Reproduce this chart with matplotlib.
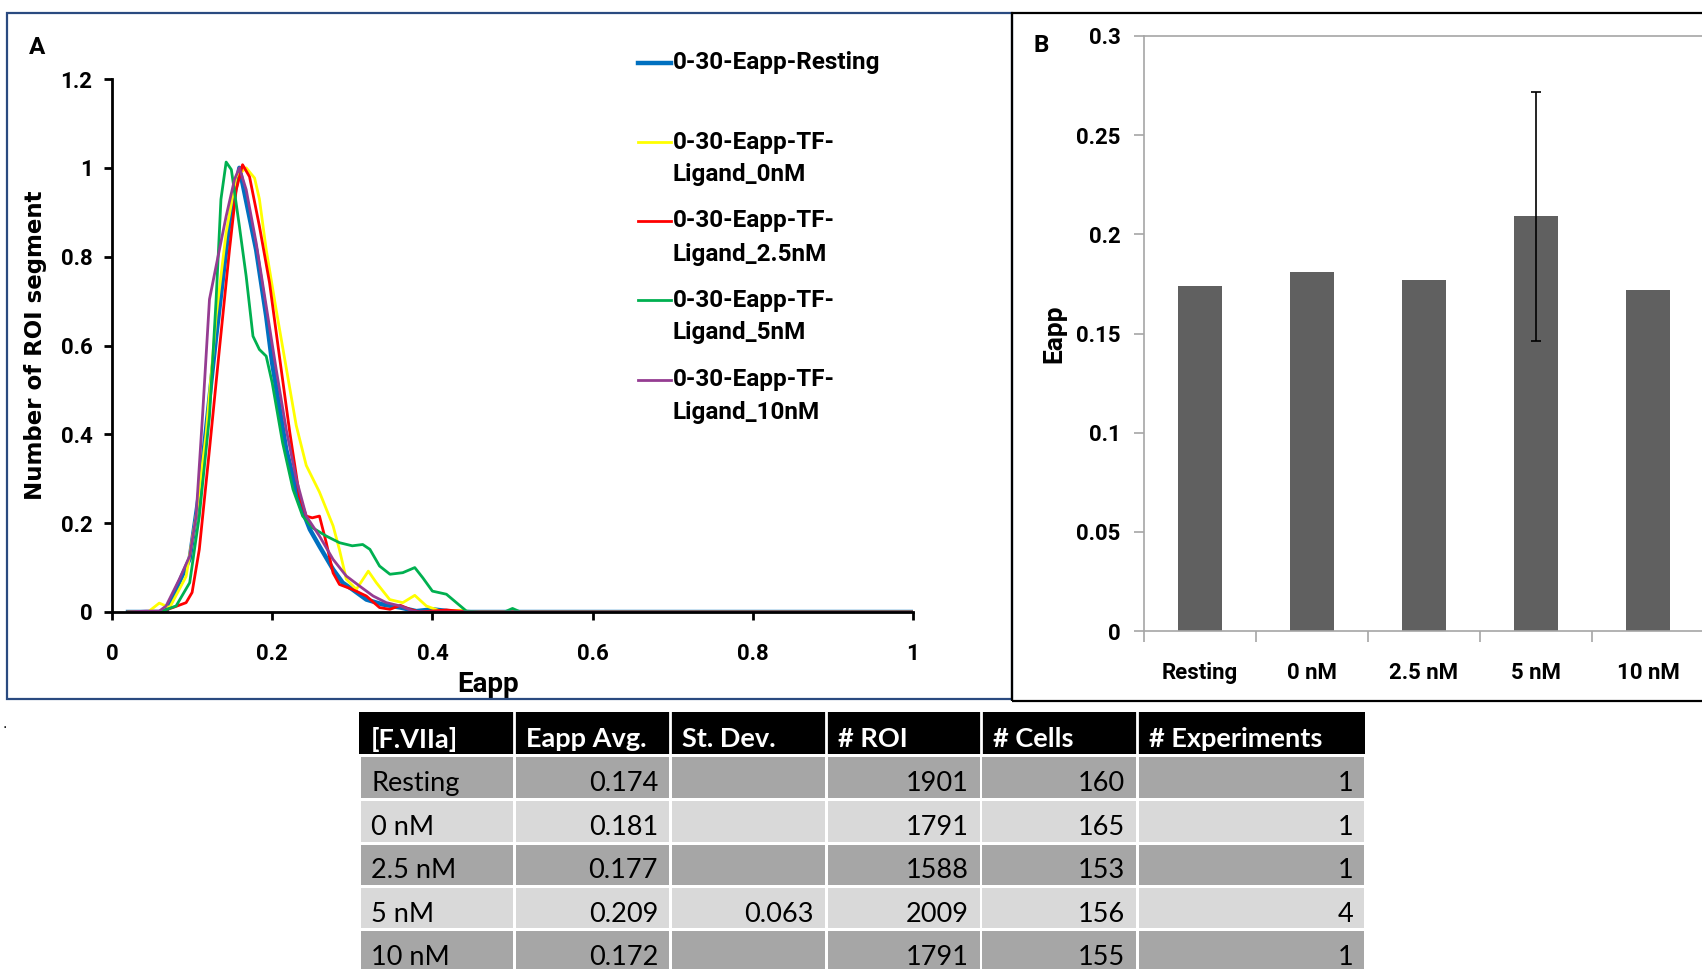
import numpy as np
import matplotlib.pyplot as plt
from matplotlib.patches import Rectangle
from matplotlib.lines import Line2D

# panel A: normalised distributions of Eapp
x_rest = [0.02, 0.0675, 0.097, 0.109, 0.13, 0.1467, 0.159, 0.18, 0.1925, 0.2, 0.2175, 0.234, 0.247, 0.259, 0.276, 0.288, 0.30, 0.3175, 0.338, 0.36, 0.38, 0.40, 0.42, 0.44, 1.0]
y_rest = [0.0, 0.0, 0.12, 0.27, 0.62, 0.88, 1.0, 0.815, 0.666, 0.56, 0.366, 0.246, 0.186, 0.148, 0.096, 0.066, 0.051, 0.028, 0.017, 0.01, 0.002, 0.006, 0.002, 0.0, 0.0]

x_0nm = [0.02, 0.045, 0.059, 0.072, 0.0925, 0.105, 0.1175, 0.13, 0.1425, 0.155, 0.1675, 0.178, 0.184, 0.1925, 0.205, 0.2175, 0.23, 0.2425, 0.259, 0.276, 0.284, 0.2925, 0.305, 0.32, 0.33, 0.3467, 0.363, 0.378, 0.3925, 0.41, 0.434, 0.45, 1.0]
y_0nm = [0.0, 0.0, 0.02, 0.01, 0.08, 0.216, 0.40, 0.666, 0.854, 0.98, 1.0, 0.977, 0.93, 0.816, 0.68, 0.55, 0.42, 0.33, 0.27, 0.194, 0.14, 0.074, 0.051, 0.092, 0.066, 0.028, 0.021, 0.0375, 0.0135, 0.002, 0.004, 0.0, 0.0]

x_25nm = [0.02, 0.059, 0.076, 0.0925, 0.1, 0.109, 0.1217, 0.134, 0.1467, 0.155, 0.163, 0.1717, 0.184, 0.1967, 0.209, 0.222, 0.234, 0.2425, 0.25, 0.259, 0.2675, 0.276, 0.284, 0.30, 0.3175, 0.334, 0.347, 0.36, 0.372, 0.384, 0.4175, 0.434, 0.45, 1.0]
y_25nm = [0.0, 0.0, 0.01, 0.021, 0.044, 0.141, 0.366, 0.59, 0.816, 0.95, 1.007, 0.98, 0.869, 0.741, 0.576, 0.404, 0.261, 0.216, 0.212, 0.216, 0.156, 0.088, 0.062, 0.051, 0.036, 0.01, 0.006, 0.015, 0.006, 0.0, 0.0045, 0.002, 0.0, 0.0]

x_5nm = [0.02, 0.059, 0.08, 0.097, 0.109, 0.1217, 0.13, 0.136, 0.1425, 0.149, 0.159, 0.1675, 0.176, 0.184, 0.1925, 0.2, 0.213, 0.226, 0.238, 0.25, 0.2675, 0.284, 0.30, 0.313, 0.322, 0.334, 0.347, 0.363, 0.378, 0.388, 0.40, 0.4175, 0.43, 0.4425, 0.459, 0.49, 0.50, 0.51, 1.0]
y_5nm = [0.0, 0.0, 0.0135, 0.066, 0.216, 0.441, 0.704, 0.929, 1.013, 0.996, 0.869, 0.756, 0.621, 0.591, 0.576, 0.516, 0.381, 0.276, 0.216, 0.19, 0.171, 0.156, 0.149, 0.152, 0.141, 0.1035, 0.085, 0.0885, 0.1, 0.077, 0.047, 0.04, 0.021, 0.002, 0.0, 0.0, 0.008, 0.0, 0.0]

x_10nm = [0.02, 0.0425, 0.059, 0.0675, 0.084, 0.097, 0.105, 0.113, 0.1217, 0.13, 0.1425, 0.153, 0.159, 0.1675, 0.18, 0.1925, 0.205, 0.2175, 0.23, 0.2425, 0.259, 0.276, 0.2925, 0.309, 0.326, 0.3425, 0.36, 0.376, 0.384, 1.0]
y_10nm = [0.0, 0.002, 0.002, 0.0135, 0.0735, 0.126, 0.216, 0.441, 0.704, 0.779, 0.891, 0.974, 1.0, 0.951, 0.831, 0.689, 0.546, 0.411, 0.30, 0.216, 0.171, 0.1185, 0.081, 0.0585, 0.036, 0.021, 0.0135, 0.002, 0.0, 0.0]

series = [
    ('0-30-Eapp-Resting', x_rest, y_rest, '#0070C0', 3.2),
    ('0-30-Eapp-TF-\nLigand_0nM', x_0nm, y_0nm, '#FFFF00', 2.0),
    ('0-30-Eapp-TF-\nLigand_2.5nM', x_25nm, y_25nm, '#FF0000', 2.0),
    ('0-30-Eapp-TF-\nLigand_5nM', x_5nm, y_5nm, '#00B050', 2.0),
    ('0-30-Eapp-TF-\nLigand_10nM', x_10nm, y_10nm, '#953C92', 2.0),
]

# panel B + table
conc = ['Resting', '0 nM', '2.5 nM', '5 nM', '10 nM']
eapp_avg = [0.174, 0.181, 0.177, 0.209, 0.172]
st_dev = [np.nan, np.nan, np.nan, 0.063, np.nan]
n_roi = [1901, 1791, 1588, 2009, 1791]
n_cells = [160, 165, 153, 156, 155]
n_exp = [1, 1, 1, 4, 1]
headers = ['[F.VIIa]', 'Eapp Avg.', 'St. Dev.', '# ROI', '# Cells', '# Experiments']

CAL = ['Lato', 'DejaVu Sans']
BOLD = ['Roboto', 'DejaVu Sans']

W, H = 1702, 969
fig = plt.figure(figsize=(W / 100, H / 100), dpi=100)


def box(l, t, r, b):
    return [l / W, 1 - b / H, (r - l) / W, (b - t) / H]


def fx(x):
    return x / W


def fy(y):
    return 1 - y / H


# frames round the two panels
fig.add_artist(Rectangle((fx(7), fy(699)), (1012 - 7) / W, (699 - 13) / H, transform=fig.transFigure,
                         fill=False, edgecolor='#2a4a80', lw=1.6))
fig.add_artist(Rectangle((fx(1012), fy(701)), (1720 - 1012) / W, (701 - 13) / H, transform=fig.transFigure,
                         fill=False, edgecolor='black', lw=1.6))

# ---- panel A
axA = fig.add_axes(box(112, 79, 913, 612))
for name, xs, ys, col, lw in series:
    axA.plot(xs, ys, color=col, lw=lw, solid_joinstyle='round')
axA.set_xlim(0, 1)
axA.set_ylim(0, 1.2)
axA.set_xticks([0, 0.2, 0.4, 0.6, 0.8, 1])
axA.set_xticklabels(['0', '0.2', '0.4', '0.6', '0.8', '1'])
axA.set_yticks([0, 0.2, 0.4, 0.6, 0.8, 1, 1.2])
axA.set_yticklabels(['0', '0.2', '0.4', '0.6', '0.8', '1', '1.2'])
for s in ['top', 'right']:
    axA.spines[s].set_visible(False)
for s in ['left', 'bottom']:
    axA.spines[s].set_linewidth(2)
axA.tick_params(length=6, width=2, direction='out')
axA.tick_params(axis='y', pad=8)
axA.tick_params(axis='x', pad=16)
for lab in axA.get_xticklabels() + axA.get_yticklabels():
    lab.set_fontfamily(BOLD)
    lab.set_fontweight('bold')
    lab.set_fontsize(16)
axA.set_xlabel('Eapp', family=BOLD, weight='bold', fontsize=20)
axA.xaxis.set_label_coords(0.469, -0.11)
axA.set_ylabel('Number of ROI segment', family='DejaVu Sans', weight='bold', fontsize=16.5, labelpad=10)
fig.text(fx(37), fy(48), 'A', family=BOLD, weight='bold', fontsize=17.5, ha='center', va='center')

# legend drawn by hand at the top right of panel A
leg_y = [63, 142, 221, 300, 380]
for (name, xs, ys, col, lw), yy in zip(series, leg_y):
    fig.add_artist(Line2D([fx(638), fx(671)], [fy(yy), fy(yy)], transform=fig.transFigure,
                          color=col, lw=lw))
    for k, line in enumerate(name.split('\n')):
        fig.text(fx(673), fy(yy + 33 * k), line, family=BOLD, weight='bold', fontsize=17.5,
                 ha='left', va='center')

# ---- panel B
axB = fig.add_axes(box(1144, 36, 1704, 631))
pos = np.arange(len(conc))
axB.bar(pos, eapp_avg, width=0.4, color='#606060')
sd = np.array(st_dev)
ok = ~np.isnan(sd)
axB.errorbar(pos[ok], np.array(eapp_avg)[ok], yerr=sd[ok], fmt='none', ecolor='black', elinewidth=1.2,
             capsize=3.5, capthick=1.2)
axB.set_xlim(-0.5, 4.5)
axB.set_ylim(0, 0.3)
axB.set_yticks([0, 0.05, 0.1, 0.15, 0.2, 0.25, 0.3])
axB.set_yticklabels(['0', '0.05', '0.1', '0.15', '0.2', '0.25', '0.3'])
axB.set_xticks(pos)
axB.set_xticklabels(conc)
axB.set_xticks(np.arange(-0.5, 5, 1), minor=True)
axB.spines['right'].set_visible(False)
for s in ['left', 'bottom', 'top']:
    axB.spines[s].set_color('#a6a6a6')
    axB.spines[s].set_linewidth(1.2)
axB.tick_params(axis='y', length=7, width=1.2, color='#a6a6a6', pad=10)
axB.tick_params(axis='x', which='major', length=0, pad=22)
axB.tick_params(axis='x', which='minor', length=8, width=1.2, color='#a6a6a6')
for lab in axB.get_xticklabels() + axB.get_yticklabels():
    lab.set_fontfamily(BOLD)
    lab.set_fontweight('bold')
    lab.set_fontsize(16)
axB.set_ylabel('Eapp', family=BOLD, weight='bold', fontsize=19, labelpad=7)
fig.text(fx(1041), fy(46), 'B', family=BOLD, weight='bold', fontsize=17.5, ha='center', va='center')

# ---- table under the panels
fig.text(fx(2), fy(728), '.', fontsize=10, ha='left', va='baseline')
col_edges = [359, 514, 670, 826, 981, 1137, 1365]
row_tops = [712, 757, 801, 845, 888, 931]
row_h = [42, 41, 41, 40, 40, 41]
fills = ['black', '#a6a6a6', '#d9d9d9', '#a6a6a6', '#d9d9d9', '#a6a6a6']


def fmt(v):
    if isinstance(v, float):
        return '' if np.isnan(v) else f'{v:.3f}'
    return str(v)


rows = [headers] + [[conc[i], eapp_avg[i], st_dev[i], n_roi[i], n_cells[i], n_exp[i]] for i in range(len(conc))]
for r, (row, top, hh, fc) in enumerate(zip(rows, row_tops, row_h, fills)):
    for c, val in enumerate(row):
        l, rr = col_edges[c], col_edges[c + 1]
        gap = 0 if r == 0 else 1.5
        fig.add_artist(Rectangle((fx(l + gap), fy(top + hh)), (rr - l - 2 * gap) / W, hh / H,
                                 transform=fig.transFigure, facecolor=fc, edgecolor='none'))
        txt = fmt(val)
        cy = fy(top + hh / 2 + 6)
        if r == 0:
            fig.text(fx(l + 12), cy, txt, color='white', family=CAL, weight='bold', fontsize=19.5,
                     ha='left', va='center')
        elif c == 0:
            fig.text(fx(l + 12), cy, txt, color='black', family=CAL, fontsize=19.5, ha='left', va='center')
        else:
            fig.text(fx(rr - 12), cy, txt, color='black', family=CAL, fontsize=19.5, ha='right', va='center')
# white gaps between header cells
for e in col_edges[1:-1]:
    fig.add_artist(Line2D([fx(e), fx(e)], [fy(712), fy(754)], transform=fig.transFigure, color='white', lw=2))

fig.savefig('out.png', dpi=100)
